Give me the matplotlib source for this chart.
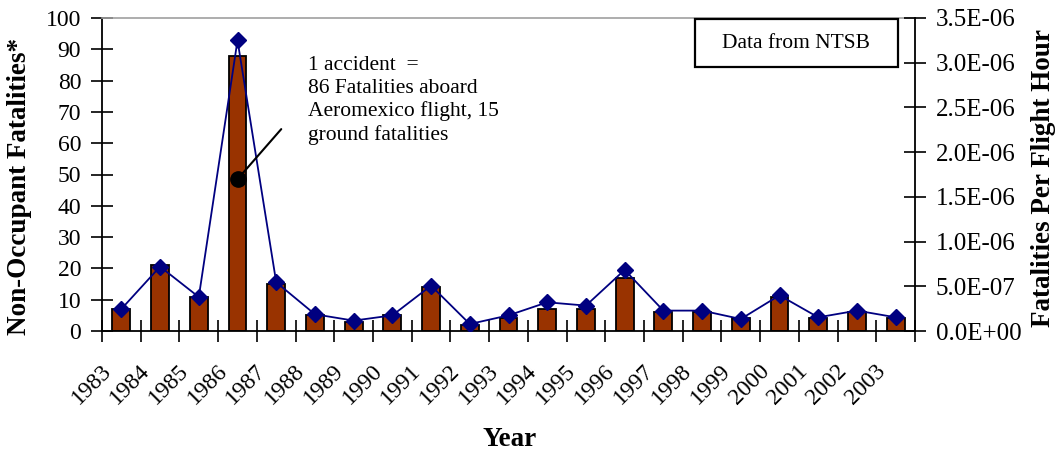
import matplotlib
matplotlib.use("Agg")
import matplotlib.pyplot as plt
import numpy as np
from matplotlib.ticker import FixedLocator, FuncFormatter
from matplotlib.transforms import ScaledTranslation
from matplotlib.patches import Rectangle

plt.rcParams['font.family'] = ['Liberation Serif', 'DejaVu Serif']

years = [str(y) for y in range(1983, 2004)]
fatalities = [7, 21, 11, 88, 15, 5, 3, 5, 14, 2, 4, 7, 7, 17, 6, 6, 4, 11, 4, 6, 4]
rate = [2.46e-7, 7.2e-7, 3.8e-7, 3.25e-6, 5.45e-7, 1.87e-7, 1.16e-7, 1.75e-7,
        5.07e-7, 7.8e-8, 1.75e-7, 3.21e-7, 2.84e-7, 6.83e-7, 2.28e-7, 2.28e-7,
        1.34e-7, 3.99e-7, 1.53e-7, 2.28e-7, 1.53e-7]
note_text = "1 accident  =\n86 Fatalities aboard\nAeromexico flight, 15\nground fatalities"
note_point = (3, 48.5)
note_from = (4.13, 64.5)

W, H = 1055, 455
fig = plt.figure(figsize=(W / 100, H / 100), dpi=100)
L, R, T, B = 102, 915, 18, 331
ax = fig.add_axes([L / W, 1 - B / H, (R - L) / W, (B - T) / H])

x = np.arange(len(years))
ax.bar(x, fatalities, width=0.46, color='#993300', edgecolor='black', linewidth=1.3, zorder=2)
ax.set_xlim(-0.5, len(years) - 0.5)
ax.set_ylim(0, 100)
ax.set_yticks(np.arange(0, 101, 10))

ax.set_xticks(x)
ax.set_xticklabels(years, rotation=45, ha='right', va='top', rotation_mode='default')
ax.xaxis.set_minor_locator(FixedLocator(np.arange(-0.5, len(years), 1.0)))
ax.tick_params(axis='x', which='major', length=0, pad=21, labelsize=17)
ax.tick_params(axis='x', which='minor', direction='inout', length=16, width=1.2)
ax.tick_params(axis='y', direction='inout', length=16, width=1.2, labelsize=17, pad=7)
shift = ScaledTranslation(-6 / 100, 0, fig.dpi_scale_trans)
for lab in ax.get_xticklabels():
    lab.set_transform(lab.get_transform() + shift)

for s in ['left', 'bottom']:
    ax.spines[s].set_linewidth(1.3)
ax.spines['top'].set_color('#a0a0a0')
ax.spines['top'].set_linewidth(1.2)
ax.spines['right'].set_visible(False)

ax.set_ylabel('Non-Occupant Fatalities*', fontsize=19.5, fontweight='bold', va='center')
ax.yaxis.set_label_coords((20 - L) / (R - L), (B - 186) / (B - T))
ax.set_xlabel('Year', fontsize=19.5, fontweight='bold', va='center')
ax.xaxis.set_label_coords((510 - L) / (R - L), (B - 439) / (B - T))

ax2 = ax.twinx()
ax2.plot(x, rate, color='#000080', linewidth=1.3, marker='D', markersize=8.5,
         markerfacecolor='#000080', markeredgecolor='#000080', zorder=3)
ax2.set_ylim(0, 3.5e-6)
ax2.set_yticks(np.arange(0, 3.51e-6, 0.5e-6))
ax2.yaxis.set_major_formatter(FuncFormatter(lambda v, p: f"{v:.1E}"))
ax2.tick_params(axis='y', direction='inout', length=16, width=1.2, labelsize=18, pad=7)
for s in ['left', 'top', 'bottom']:
    ax2.spines[s].set_visible(False)
ax2.spines['right'].set_linewidth(1.3)
ax2.set_ylabel('Fatalities Per Flight Hour', fontsize=19.5, fontweight='bold', va='center')
ax2.yaxis.set_label_coords((1043 - L) / (R - L), (B - 178) / (B - T))

ax2.annotate('', xy=note_point, xytext=note_from, xycoords=ax.transData,
             textcoords=ax.transData,
             arrowprops=dict(arrowstyle='-', color='black', lw=1.5, shrinkA=0, shrinkB=0))
ax2.plot([note_point[0]], [note_point[1]], marker='o', markersize=11, color='black',
         transform=ax.transData, zorder=5)
ax2.text((308 - L) / (R - L), (B - 56) / (B - T), note_text, transform=ax.transAxes,
         ha='left', va='top', fontsize=15.5, linespacing=1.26)

ax2.text((796 - L) / (R - L), (B - 43) / (B - T), 'Data from NTSB', transform=ax.transAxes,
         ha='center', va='center', fontsize=15.5)
ax2.add_patch(Rectangle(((695 - L) / (R - L), (B - 67) / (B - T)),
                        (898 - 695) / (R - L), (67 - 19) / (B - T),
                        transform=ax.transAxes, fill=False, edgecolor='black',
                        linewidth=1.6, clip_on=False, zorder=6))

fig.savefig('out.png', dpi=100)
